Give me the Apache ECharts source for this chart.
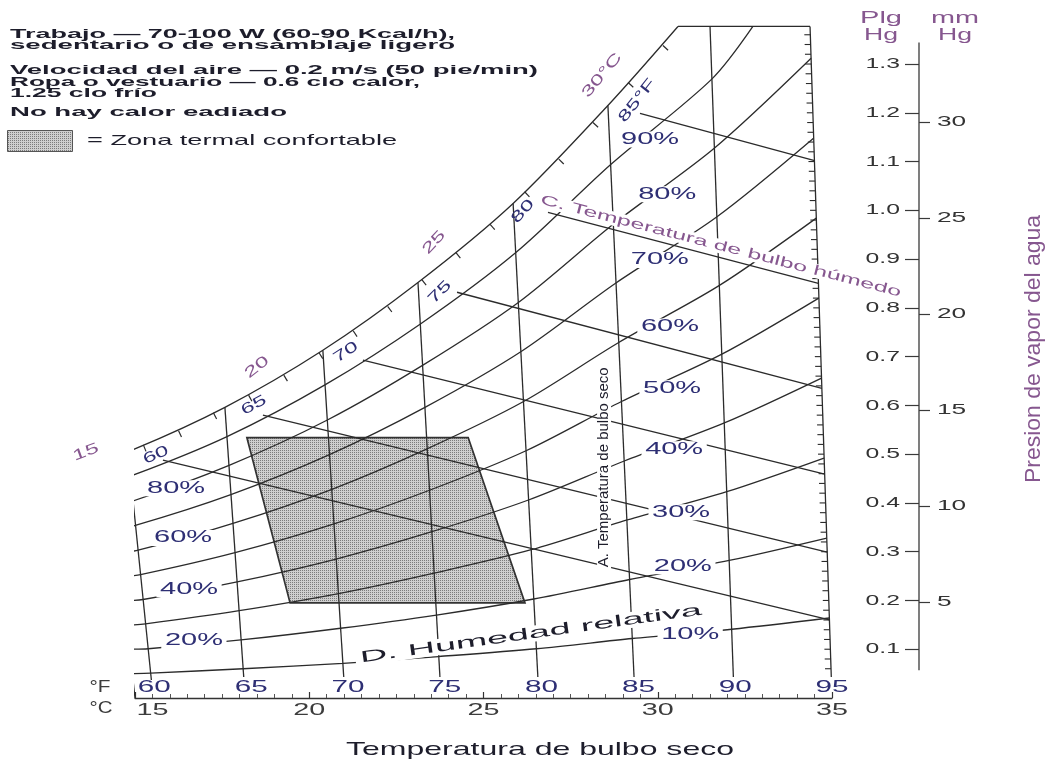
<!DOCTYPE html>
<html lang="es">
<head>
<meta charset="utf-8">
<title>Zona termal confortable</title>
<script src="https://cdn.jsdelivr.net/npm/echarts@6.0.0/dist/echarts.min.js"></script>
<style>
html,body{margin:0;padding:0;background:#fff;}
#chart{width:1048px;height:762px;}
</style>
</head>
<body>
<div id="chart"></div>
<script>
// ---------- values: x = dry-bulb position on the °C base scale, y = vapour pressure (in Hg) ----------
const saturation = [[14.25,0.498],[14.80,0.505],[17.58,0.596],[20.39,0.713],[23.12,0.852],[25.85,1.014],[28.57,1.215],[30.58,1.377]];
const topEdge = [[30.58,1.377],[34.37,1.377]];

// dry-bulb lines (15 °C, 60…90 °F, 95 °F / 35 °C)
const db15 = [[14.25,0.498],[15.00,0.000]];
const db60 = [[14.80,0.505],[15.47,0.037]];
const db65 = [[17.58,0.596],[18.12,0.043]];
const db70 = [[20.39,0.713],[20.99,0.043]];
const db75 = [[23.12,0.852],[23.75,0.043]];
const db80 = [[25.85,1.014],[26.56,0.043]];
const db85 = [[28.57,1.215],[29.32,0.043]];
const db90 = [[31.50,1.377],[32.17,0.043]];
const db95 = [[34.37,1.377],[34.98,0.043]];

// relative humidity curves
const rh10 = [[14.92,0.050],[15.45,0.051],[18.10,0.060],[20.97,0.071],[23.71,0.085],[26.52,0.101],[29.27,0.122],[32.12,0.141],[34.92,0.164]];
const rh20 = [[14.85,0.100],[15.38,0.101],[18.04,0.119],[20.90,0.143],[23.65,0.170],[26.44,0.203],[29.19,0.243],[32.05,0.282],[34.85,0.328]];
const rh30 = [[14.78,0.149],[15.30,0.152],[17.99,0.179],[20.84,0.214],[23.58,0.256],[26.37,0.304],[29.12,0.365],[31.98,0.423],[34.77,0.492]];
const rh40 = [[14.70,0.199],[15.23,0.202],[17.93,0.238],[20.77,0.285],[23.52,0.341],[26.29,0.406],[29.04,0.486],[31.91,0.564],[34.70,0.656]];
const rh50 = [[14.63,0.249],[15.16,0.253],[17.87,0.298],[20.71,0.357],[23.45,0.426],[26.22,0.507],[28.96,0.608],[31.84,0.705],[34.62,0.820]];
const rh60 = [[14.55,0.299],[15.09,0.303],[17.81,0.358],[20.65,0.428],[23.38,0.511],[26.15,0.608],[28.88,0.729],[31.77,0.846],[34.55,0.984]];
const rh70 = [[14.47,0.349],[15.01,0.354],[17.75,0.417],[20.58,0.499],[23.32,0.596],[26.07,0.710],[28.80,0.851],[31.70,0.987],[34.47,1.148]];
const rh80 = [[14.40,0.398],[14.94,0.404],[17.70,0.477],[20.52,0.570],[23.25,0.682],[26.00,0.811],[28.73,0.972],[31.63,1.128],[34.40,1.312]];
const rh90 = [[14.33,0.448],[14.87,0.455],[17.64,0.536],[20.45,0.642],[23.19,0.767],[25.92,0.913],[28.65,1.094],[31.55,1.269],[32.73,1.377]];

// wet-bulb lines, 60…85 °F
const wb60 = [[15.80,0.488],[34.93,0.160]];
const wb65 = [[18.67,0.580],[34.86,0.299]];
const wb70 = [[21.54,0.693],[34.79,0.459]];
const wb75 = [[24.24,0.832],[34.71,0.635]];
const wb80 = [[26.85,0.996],[34.61,0.850]];
const wb85 = [[29.49,1.199],[34.50,1.102]];

// comfort zone corners
const comfortZone = [[18.21,0.534],[24.56,0.534],[26.19,0.195],[19.45,0.195]];

// 1 °C wet-bulb marks along the saturation curve (16…31 °C)
const satTicks = [[15.24,0.519],[16.25,0.548],[17.25,0.585],[18.26,0.621],[19.27,0.662],[20.28,0.708],[21.26,0.753],[22.25,0.803],[23.23,0.858],[24.21,0.913],[25.19,0.971],[26.18,1.038],[27.16,1.105],[28.14,1.180],[29.15,1.262],[30.15,1.338]];

// tick labels
const celsiusTicks = [15,20,25,30,35];
const fahrenheitTicks = [60,65,70,75,80,85,90,95];
const inHgTicks = [0.1,0.2,0.3,0.4,0.5,0.6,0.7,0.8,0.9,1.0,1.1,1.2,1.3];
const mmHgTicks = [5,10,15,20,25,30];
const rhNames = ['10%','20%','30%','40%','50%','60%','70%','80%','90%'];
const rhLeftNames = ['20%','40%','60%','80%'];
const wetBulbNames = ['60','65','70','75','80','85°F'];
const wetBulbCelsiusNames = ['15','20','25','30°C'];

// ---------- drawing ----------
const FONT = '"Liberation Sans", Arial, sans-serif';
const INK = '#1d1d2b';
const NAVY = '#2e2f74';
const PURPLE = '#86578f';
const GREY = '#3c3c3c';
const LINE = '#2b2b2b';

const measureCtx = document.createElement('canvas').getContext('2d');
function textWidth(t) {
  measureCtx.font = (t.weight || 'normal') + ' ' + t.size + 'px ' + FONT;
  return measureCtx.measureText(t.text).width;
}
function textEl(t, x, y) {
  const sx = t.width ? t.width / textWidth(t) : (t.sx || 1);
  const el = {
    type: 'text', x: x, y: y, rotation: (t.rot || 0) * Math.PI / 180, scaleX: sx,
    style: {
      text: t.text, fontSize: t.size, fontFamily: FONT, fontWeight: t.weight || 'normal',
      fill: t.color || INK, align: t.align || 'center', verticalAlign: 'middle', lineHeight: t.size
    }
  };
  if (t.bg) { el.style.backgroundColor = t.bg; el.style.padding = [0, 2]; }
  return el;
}

// fine dot screen used for the comfort zone
const stipple = document.createElement('canvas');
stipple.width = 2; stipple.height = 2;
(function () {
  const g = stipple.getContext('2d');
  g.fillStyle = '#cfcfcf'; g.fillRect(0, 0, 2, 2);
  g.fillStyle = '#7c7c7c'; g.fillRect(0, 0, 1, 1);
})();
const stippleFill = { image: stipple, repeat: 'repeat' };

function lineSeries(data, smooth) {
  return {
    type: 'line', data: data, symbol: 'none', showSymbol: false, silent: true, clip: false,
    smooth: smooth ? 0.3 : false, z: 3,
    lineStyle: { color: LINE, width: 1.3 }
  };
}

// chart-anchored text: items carry an anchor in axis units
function textSeries(items, xAxisIndex, z) {
  return {
    type: 'custom', coordinateSystem: 'cartesian2d', xAxisIndex: xAxisIndex || 0, yAxisIndex: 0,
    clip: false, silent: true, z: z || 8,
    data: items.map(function (d) { return [d.at[0], d.at[1]]; }),
    renderItem: function (params, api) {
      const d = items[params.dataIndex];
      const pt = api.coord([d.at[0], d.at[1]]);
      return textEl(d, pt[0], pt[1]);
    }
  };
}

// label anchors (axis units)
const rhRightAt = [[30.93,0.131],[30.72,0.270],[30.67,0.381],[30.47,0.510],[30.41,0.635],[30.35,0.762],[30.06,0.898],[30.27,1.033],[29.78,1.145]];
const rhLeftAt = [[16.69,0.117],[16.55,0.223],[16.38,0.328],[16.18,0.430]];
const wbAt = [[15.60,0.498,24],[18.41,0.600,28],[21.05,0.709,33],[23.75,0.832,45],[26.13,0.998,48],[29.41,1.225,52]];
const wbcAt = [[13.59,0.504,20],[18.50,0.678,38],[23.58,0.934,47],[28.40,1.277,50]];
const celsiusLabelAt = [15.5,20,25,30,35];

const chartTexts = []
  .concat(rhNames.map(function (s, i) { return { text: s, at: rhRightAt[i], size: 16, width: 58, color: NAVY, bg: '#fff' }; }))
  .concat(rhLeftNames.map(function (s, i) { return { text: s, at: rhLeftAt[i], size: 16, width: 58, color: NAVY, bg: '#fff' }; }))
  .concat(wetBulbNames.map(function (s, i) { return { text: s, at: wbAt[i], rot: wbAt[i][2], size: 15, sx: 1.6, color: NAVY }; }))
  .concat(wetBulbCelsiusNames.map(function (s, i) { return { text: s, at: wbcAt[i], rot: wbcAt[i][2], size: 15, sx: 1.6, color: PURPLE }; }))
  .concat([
    { text: 'C. Temperatura de bulbo húmedo', at: [31.81, 0.926], rot: -14.5, size: 14, width: 372, color: PURPLE, bg: '#fff' },
    { text: 'A. Temperatura de bulbo seco', at: [28.46, 0.473], rot: 90, size: 14, width: 200, color: INK, bg: '#fff' },
    { text: 'D. Humedad relativa', at: [26.36, 0.131], rot: 8, size: 16, width: 345, color: INK, bg: '#fff' }
  ]);

const celsiusTexts = celsiusTicks.map(function (v, i) { return { text: String(v), at: [celsiusLabelAt[i], -0.026], size: 17, width: 32, color: GREY }; });
const fahrenheitTexts = fahrenheitTicks.map(function (v) { return { text: String(v), at: [v, 0.021], size: 17, width: 33, color: NAVY }; });

// small marks on the inside of the 35 °C edge
const edgeTicks = [];
for (let v = 0.06; v < 1.37; v += 0.02) edgeTicks.push(+v.toFixed(2));

const legendLines = [
  { text: 'Trabajo — 70-100 W (60-90 Kcal/h),', y: 35, width: 445 },
  { text: 'sedentario o de ensamblaje ligero', y: 46, width: 445 },
  { text: 'Velocidad del aire — 0.2 m/s (50 pie/min)', y: 71, width: 528 },
  { text: 'Ropa o vestuario — 0.6 clo calor,', y: 83, width: 410 },
  { text: '1.25 clo frío', y: 94, width: 147 },
  { text: 'No hay calor eadiado', y: 113, width: 277 }
];

const staticGraphics = legendLines.map(function (l) {
  return textEl({ text: l.text, size: 12, weight: 'bold', width: l.width, color: INK, align: 'left' }, 10, l.y);
}).concat([
  { type: 'rect', shape: { x: 7.5, y: 130.5, width: 65, height: 21 }, style: { fill: stippleFill, stroke: '#555', lineWidth: 1 } },
  textEl({ text: '= Zona termal confortable', size: 15, width: 310, color: INK, align: 'left' }, 87, 141),
  textEl({ text: '°F', size: 16, width: 21, color: GREY }, 100, 688),
  textEl({ text: '°C', size: 16, width: 23, color: GREY }, 101, 709),
  textEl({ text: 'Temperatura de bulbo seco', size: 19, width: 388, color: INK }, 540, 750),
  textEl({ text: 'Plg', size: 16, width: 42, color: PURPLE }, 881, 19),
  textEl({ text: 'Hg', size: 16, width: 34, color: PURPLE }, 881, 36),
  textEl({ text: 'mm', size: 16, width: 48, color: PURPLE }, 955, 19),
  textEl({ text: 'Hg', size: 16, width: 34, color: PURPLE }, 955, 36),
  textEl({ text: 'Presion de vapor del agua', size: 22, width: 268, rot: 90, color: PURPLE }, 1034, 349)
]);

const chart = echarts.init(document.getElementById('chart'), null, { renderer: 'canvas' });

const series = [
  {
    type: 'custom', coordinateSystem: 'cartesian2d', silent: true, clip: false, z: 1,
    data: [comfortZone[0]],
    renderItem: function (params, api) {
      return {
        type: 'polygon',
        shape: { points: comfortZone.map(function (c) { return api.coord(c); }) },
        style: { fill: stippleFill, stroke: '#333', lineWidth: 1.7 }
      };
    }
  },
  lineSeries(saturation, true),
  lineSeries(topEdge, false)
]
  .concat([db15, db60, db65, db70, db75, db80, db85, db90, db95].map(function (d) { return lineSeries(d, false); }))
  .concat([rh10, rh20, rh30, rh40, rh50, rh60, rh70, rh80, rh90].map(function (d) { return lineSeries(d, true); }))
  .concat([wb60, wb65, wb70, wb75, wb80, wb85].map(function (d) { return lineSeries(d, false); }))
  .concat([
    {
      type: 'custom', coordinateSystem: 'cartesian2d', silent: true, clip: false, z: 4,
      data: satTicks,
      renderItem: function (params, api) {
        const i = params.dataIndex, n = satTicks.length;
        const p = api.coord(satTicks[i]);
        const a = api.coord(satTicks[Math.max(0, i - 1)]);
        const b = api.coord(satTicks[Math.min(n - 1, i + 1)]);
        let dx = b[0] - a[0], dy = b[1] - a[1];
        const len = Math.hypot(dx, dy); dx /= len; dy /= len;
        return { type: 'line', shape: { x1: p[0], y1: p[1], x2: p[0] - dy * 7, y2: p[1] + dx * 7 }, style: { stroke: LINE, lineWidth: 1.2 } };
      }
    },
    {
      type: 'custom', coordinateSystem: 'cartesian2d', silent: true, clip: false, z: 4,
      data: edgeTicks.map(function (v) { return [35, v]; }),
      renderItem: function (params, api) {
        const v = edgeTicks[params.dataIndex];
        const t = db95[1][0] + (db95[0][0] - db95[1][0]) * (v - db95[1][1]) / (db95[0][1] - db95[1][1]);
        const p = api.coord([t, v]);
        return { type: 'line', shape: { x1: p[0], y1: p[1], x2: p[0] - 6, y2: p[1] }, style: { stroke: LINE, lineWidth: 1.1 } };
      }
    },
    textSeries(chartTexts, 0, 8),
    textSeries(celsiusTexts, 0, 8),
    textSeries(fahrenheitTexts, 1, 8)
  ]);

const PRESSURE_AXIS_OFFSET = 87;
// the printed pressure scale runs between these two values
const PRESSURE_SCALE_SPAN = [0.057, 1.344];

chart.setOption({
  animation: false,
  backgroundColor: '#ffffff',
  grid: { left: 135, right: 216, top: 25, bottom: 64, containLabel: false },
  xAxis: [
    {
      type: 'value', min: 15, max: 35, interval: 5, position: 'bottom',
      axisLine: { show: true, lineStyle: { color: '#333', width: 1.3 } },
      axisTick: { show: true, inside: true, length: 6, lineStyle: { color: '#333', width: 1.2 } },
      minorTick: { show: true, splitNumber: 10, length: 4, lineStyle: { color: '#555', width: 1 } },
      axisLabel: { show: false }, splitLine: { show: false }
    },
    {
      type: 'value', min: 59, max: 95, position: 'bottom',
      axisLine: { show: false }, axisTick: { show: false }, axisLabel: { show: false }, splitLine: { show: false }
    }
  ],
  yAxis: [
    { type: 'value', min: 0, max: 1.38, show: false },
    {
      type: 'value', min: 0, max: 1.38, position: 'right', offset: PRESSURE_AXIS_OFFSET,
      axisLine: { show: false },
      axisTick: { show: true, inside: true, length: 14, customValues: inHgTicks, lineStyle: { color: '#3a3a3a', width: 1.2 } },
      axisLabel: { show: false }, splitLine: { show: false }
    },
    {
      type: 'value', min: 0, max: 35.052, position: 'right', offset: PRESSURE_AXIS_OFFSET,
      axisLine: { show: false },
      axisTick: { show: true, length: 11, customValues: mmHgTicks, lineStyle: { color: '#3a3a3a', width: 1.2 } },
      axisLabel: { show: false }, splitLine: { show: false }
    }
  ],
  graphic: { elements: staticGraphics },
  series: series
});

// pressure scale line and labels on the two right-hand axes
const axisX = chart.getWidth() - 216 + PRESSURE_AXIS_OFFSET;
const scaleLine = {
  type: 'line',
  shape: {
    x1: axisX, y1: chart.convertToPixel({ yAxisIndex: 1 }, PRESSURE_SCALE_SPAN[0]),
    x2: axisX, y2: chart.convertToPixel({ yAxisIndex: 1 }, PRESSURE_SCALE_SPAN[1])
  },
  style: { stroke: '#3a3a3a', lineWidth: 1.3 }
};
const pressureLabels = inHgTicks.map(function (v) {
  return textEl({ text: v.toFixed(1), size: 15, sx: 1.65, color: '#333', align: 'right' }, axisX - 19, chart.convertToPixel({ yAxisIndex: 1 }, v));
}).concat(mmHgTicks.map(function (v) {
  return textEl({ text: String(v), size: 15, sx: 1.75, color: '#333', align: 'left' }, axisX + 18, chart.convertToPixel({ yAxisIndex: 2 }, v));
}));
chart.setOption({ graphic: { elements: staticGraphics.concat([scaleLine], pressureLabels) } }, { replaceMerge: ['graphic'] });
</script>
</body>
</html>
